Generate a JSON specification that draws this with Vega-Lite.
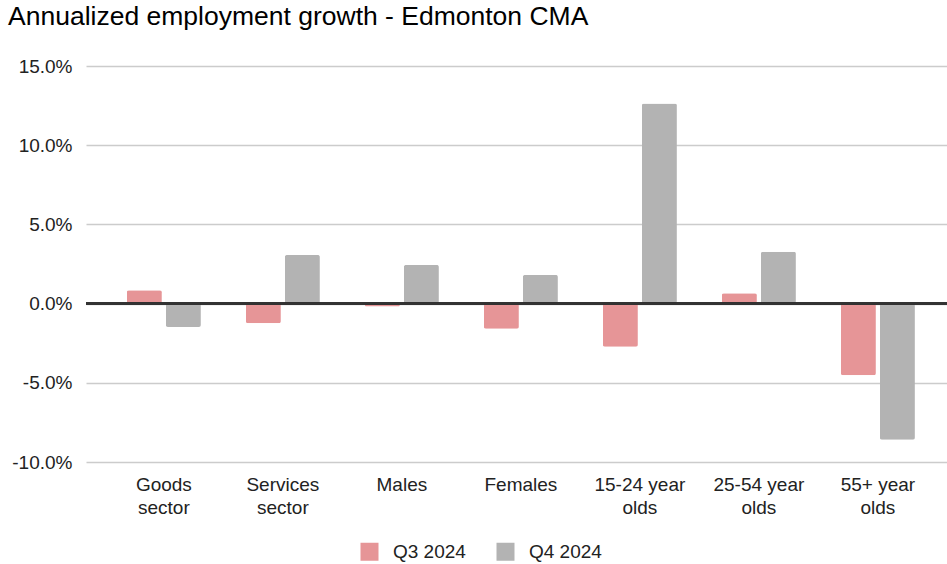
{
  "$schema": "https://vega.github.io/schema/vega-lite/v6.json",
  "autosize": {"type": "none"},
  "padding": {"left": 86, "top": 66, "right": 0, "bottom": 102},
  "width": 861,
  "height": 396,
  "background": "white",
  "title": {
    "text": "Annualized employment growth - Edmonton CMA",
    "anchor": "start",
    "frame": "group",
    "dx": -78,
    "offset": 27,
    "font": "Liberation Sans",
    "fontSize": 26.5,
    "fontWeight": "normal",
    "color": "#000000"
  },
  "config": {
    "view": {"stroke": null},
    "font": "Liberation Sans"
  },
  "data": {
    "values": [
      {"cat": "Goods sector", "series": "Q3 2024", "v": 0.0084},
      {"cat": "Goods sector", "series": "Q4 2024", "v": -0.0147},
      {"cat": "Services sector", "series": "Q3 2024", "v": -0.0124},
      {"cat": "Services sector", "series": "Q4 2024", "v": 0.0307},
      {"cat": "Males", "series": "Q3 2024", "v": -0.0019},
      {"cat": "Males", "series": "Q4 2024", "v": 0.0244},
      {"cat": "Females", "series": "Q3 2024", "v": -0.0158},
      {"cat": "Females", "series": "Q4 2024", "v": 0.0181},
      {"cat": "15-24 year olds", "series": "Q3 2024", "v": -0.0273},
      {"cat": "15-24 year olds", "series": "Q4 2024", "v": 0.1264},
      {"cat": "25-54 year olds", "series": "Q3 2024", "v": 0.0065},
      {"cat": "25-54 year olds", "series": "Q4 2024", "v": 0.0328},
      {"cat": "55+ year olds", "series": "Q3 2024", "v": -0.0453},
      {"cat": "55+ year olds", "series": "Q4 2024", "v": -0.086}
    ]
  },
  "layer": [
    {
      "mark": {"type": "bar", "cornerRadius": 2},
      "encoding": {
        "x": {
          "field": "cat",
          "type": "nominal",
          "sort": null,
          "title": null,
          "scale": {"paddingInner": 0.378, "paddingOuter": 0.3065, "align": 0.56},
          "axis": {
            "labelAngle": 0,
            "domain": false,
            "ticks": false,
            "grid": false,
            "labelFontSize": 19,
            "labelColor": "#222222",
            "labelPadding": 13,
            "labelLineHeight": 23,
            "labelBaseline": "top",
            "labelExpr": "indexof(datum.label, ' ') < 0 ? datum.label : [substring(datum.label, 0, lastindexof(datum.label, ' ')), substring(datum.label, lastindexof(datum.label, ' ') + 1)]"
          }
        },
        "xOffset": {
          "field": "series",
          "type": "nominal",
          "scale": {"paddingInner": 0.103, "paddingOuter": 0}
        },
        "y": {
          "field": "v",
          "type": "quantitative",
          "title": null,
          "scale": {"domain": [-0.1, 0.15], "nice": false, "zero": false},
          "axis": {
            "values": [-0.1, -0.05, 0, 0.05, 0.1, 0.15],
            "format": ".1%",
            "labelExpr": "replace(datum.label, '\u2212', '-')",
            "domain": false,
            "ticks": false,
            "labelFontSize": 19,
            "labelColor": "#222222",
            "labelPadding": 14,
            "gridColor": "#cccccc",
            "gridWidth": 1.3
          }
        },
        "color": {
          "field": "series",
          "type": "nominal",
          "scale": {"domain": ["Q3 2024", "Q4 2024"], "range": ["#e69597", "#b3b3b3"]},
          "legend": {
            "title": null,
            "orient": "none",
            "direction": "horizontal",
            "legendX": 274,
            "legendY": 476,
            "symbolType": "square",
            "symbolSize": 324,
            "symbolStrokeWidth": 0,
            "labelFontSize": 19,
            "labelColor": "#222222",
            "labelOffset": 14,
            "columnPadding": 30
          }
        }
      }
    },
    {
      "mark": {"type": "rule", "color": "#333333", "strokeWidth": 1.5},
      "encoding": {"y": {"datum": 0}}
    }
  ]
}
